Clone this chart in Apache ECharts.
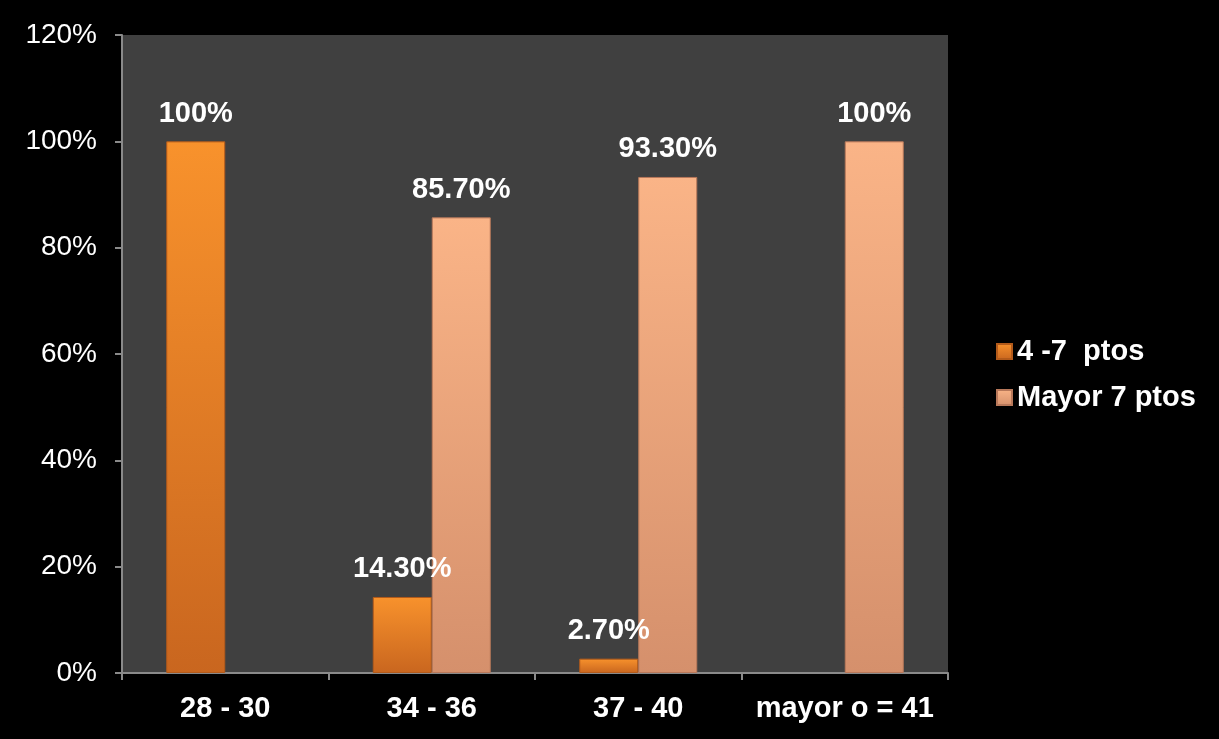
<!DOCTYPE html>
<html>
<head>
<meta charset="utf-8">
<script src="https://cdn.jsdelivr.net/npm/echarts@6/dist/echarts.min.js"></script>
<style>
html,body{margin:0;padding:0;background:#000;}
#chart{width:1219px;height:739px;}
</style>
</head>
<body>
<div id="chart"></div>
<script>
const categories = ['28 - 30', '34 - 36', '37 - 40', 'mayor o = 41'];
const seriesNames = ['4 -7  ptos', 'Mayor 7 ptos'];
const series1 = [100, 14.3, 2.7, null];
const series2 = [null, 85.7, 93.3, 100];
const yTicks = [0, 20, 40, 60, 80, 100, 120];

const font = '"Liberation Sans", Arial, sans-serif';
function fmt(v) { return v === 100 ? '100%' : v.toFixed(2) + '%'; }
function grad(top, bottom) {
  return new echarts.graphic.LinearGradient(0, 0, 0, 1, [
    {offset: 0, color: top}, {offset: 1, color: bottom}
  ]);
}

const chart = echarts.init(document.getElementById('chart'));
chart.setOption({
  backgroundColor: '#000000',
  animation: false,
  grid: {left: 122, right: 271, top: 35, bottom: 66, show: true, backgroundColor: '#404040', borderWidth: 0},
  legend: {
    orient: 'vertical', left: 991, top: 332, itemGap: 17,
    icon: 'rect', itemWidth: 15, itemHeight: 15,
    textStyle: {color: '#ffffff', fontSize: 29, fontWeight: 'bold', fontFamily: font},
    data: seriesNames
  },
  xAxis: {
    type: 'category', data: categories,
    axisLine: {lineStyle: {color: '#8a8a8a', width: 2}},
    axisTick: {show: true, interval: 0, length: 7, lineStyle: {color: '#8a8a8a', width: 2}},
    axisLabel: {color: '#ffffff', fontSize: 29, fontWeight: 'bold', fontFamily: font, margin: 21,
      interval: 0, hideOverlap: false}
  },
  yAxis: {
    type: 'value', min: 0, max: 120, interval: 20,
    splitLine: {show: false},
    axisLine: {show: true, lineStyle: {color: '#8a8a8a', width: 2}},
    axisTick: {show: true, length: 7, lineStyle: {color: '#8a8a8a', width: 2}},
    axisLabel: {color: '#ffffff', fontSize: 28, fontFamily: font, margin: 25,
      formatter: v => yTicks.includes(v) ? v + '%' : ''}
  },
  series: [
    {
      name: seriesNames[0], type: 'bar', data: series1,
      barWidth: 59, barGap: '0%',
      itemStyle: {color: grad('#f8922c', '#c9661f'), borderColor: '#b35a1a', borderWidth: 1},
      label: {show: true, position: 'top', distance: 13, color: '#ffffff', fontSize: 29,
        fontWeight: 'bold', fontFamily: font, formatter: p => fmt(p.value)}
    },
    {
      name: seriesNames[1], type: 'bar', data: series2,
      barWidth: 59, barGap: '0%',
      itemStyle: {color: grad('#fab487', '#d5906c'), borderColor: '#b8785a', borderWidth: 1},
      label: {show: true, position: 'top', distance: 13, color: '#ffffff', fontSize: 29,
        fontWeight: 'bold', fontFamily: font, formatter: p => fmt(p.value)}
    }
  ]
});
</script>
</body>
</html>
